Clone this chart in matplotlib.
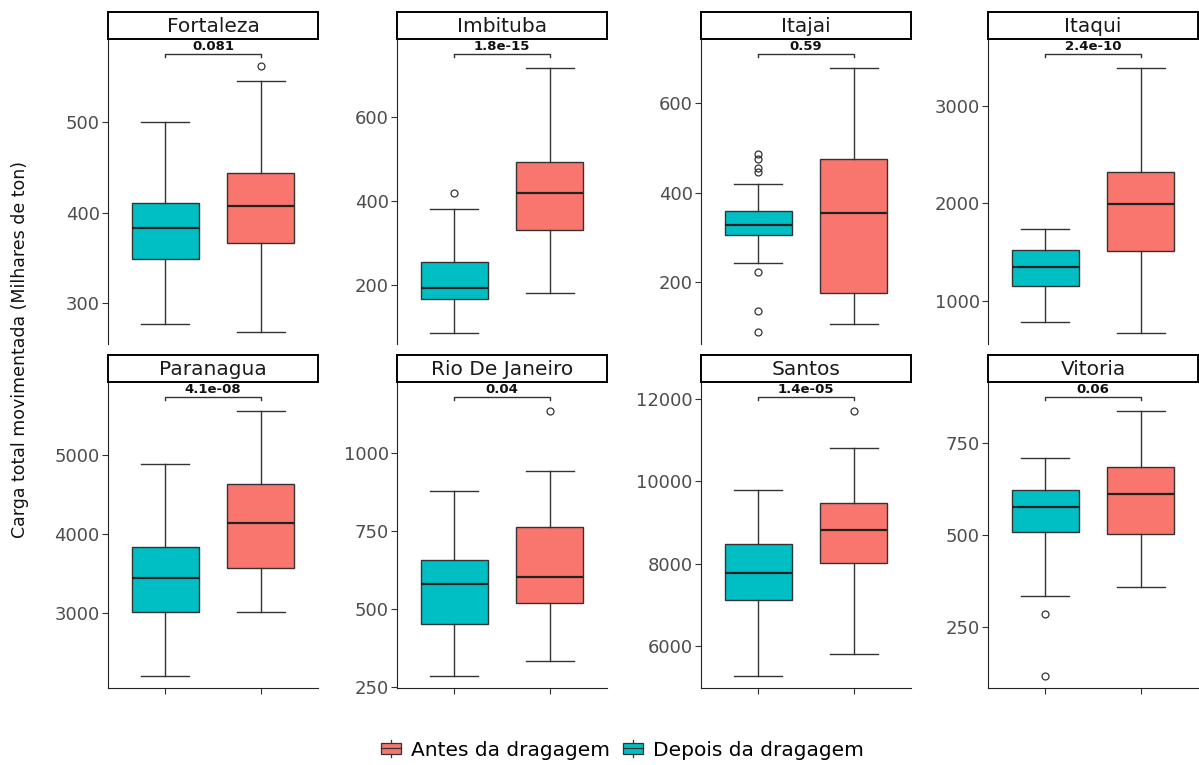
import matplotlib
matplotlib.use("Agg")
import matplotlib.pyplot as plt
import matplotlib.transforms as mtransforms
from matplotlib.patches import Rectangle, Patch
from matplotlib.lines import Line2D
from matplotlib.legend_handler import HandlerBase

portos = ["Fortaleza", "Imbituba", "Itajai", "Itaqui",
          "Paranagua", "Rio De Janeiro", "Santos", "Vitoria"]
p_valores = ["0.081", "1.8e-15", "0.59", "2.4e-10",
             "4.1e-08", "0.04", "1.4e-05", "0.06"]

# (bigode inf, q1, mediana, q3, bigode sup)
depois_stats = [
    (277, 349, 383, 411, 500),
    (87, 166, 192, 254, 381),
    (244, 306, 328, 359, 419),
    (788, 1157, 1352, 1520, 1739),
    (2200, 3013, 3444, 3830, 4886),
    (285, 452, 580, 656, 878),
    (5279, 7109, 7772, 8486, 9781),
    (335, 507, 575, 623, 709),
]
depois_outliers = [[], [418], [88, 136, 222, 446, 456, 475, 486], [],
                   [], [], [], [117, 285]]

antes_stats = [
    (268, 367, 408, 444, 546),
    (182, 330, 419, 493, 716),
    (107, 177, 354, 475, 679),
    (675, 1511, 1996, 2328, 3392),
    (3013, 3563, 4143, 4628, 5562),
    (333, 519, 603, 761, 942),
    (5798, 8024, 8816, 9479, 10809),
    (358, 503, 612, 684, 839),
]
antes_outliers = [[562], [], [], [], [], [1134], [11716], []]

limites_y = [(255, 592), (60, 785), (62, 744), (559, 3687),
             (2045, 5926), (246, 1226), (4980, 12413), (83, 917)]
ticks_y = [[300, 400, 500], [200, 400, 600], [200, 400, 600],
           [1000, 2000, 3000], [3000, 4000, 5000], [250, 500, 750, 1000],
           [6000, 8000, 10000, 12000], [250, 500, 750]]

cor_antes = "#F8766D"
cor_depois = "#00BFC4"


class HandlerCaixa(HandlerBase):
    def create_artists(self, legend, orig_handle, xdescent, ydescent,
                       width, height, fontsize, trans):
        x0, y0 = -xdescent, -ydescent
        r = Rectangle((x0 + 0.05 * width, y0 + 0.1 * height), 0.9 * width,
                      0.8 * height, facecolor=orig_handle.get_facecolor(),
                      edgecolor="#333333", lw=0.9, transform=trans)
        med = Line2D([x0 + 0.05 * width, x0 + 0.95 * width],
                     [y0 + 0.5 * height] * 2, color="#333333", lw=0.9,
                     transform=trans)
        big = Line2D([x0 + 0.5 * width] * 2, [y0 - 0.15 * height, y0 + 1.15 * height],
                     color="#333333", lw=0.9, transform=trans)
        return [big, r, med]


W, H = 1199, 765
fig = plt.figure(figsize=(W / 100, H / 100), dpi=100)

lefts = [108, 397, 701, 988]
largura = 210
linhas = [(39, 344), (382, 688)]
strip_h = 27

for i, porto in enumerate(portos):
    lin, col = divmod(i, 4)
    top, bot = linhas[lin]
    x0 = lefts[col]
    ax = fig.add_axes([x0 / W, 1 - bot / H, largura / W, (bot - top) / H])

    stats = []
    for s, out in ((depois_stats[i], depois_outliers[i]),
                   (antes_stats[i], antes_outliers[i])):
        lo, q1, med, q3, hi = s
        stats.append(dict(whislo=lo, q1=q1, med=med, q3=q3, whishi=hi,
                          fliers=out))

    bp = ax.bxp(stats, positions=[1, 2], widths=0.7, capwidths=0.5,
                patch_artist=True, showfliers=True,
                boxprops=dict(edgecolor="#333333", linewidth=1.0),
                medianprops=dict(color="#222222", linewidth=1.6),
                whiskerprops=dict(color="#333333", linewidth=1.0),
                capprops=dict(color="#333333", linewidth=1.0),
                flierprops=dict(marker="o", markerfacecolor="none",
                                markeredgecolor="#333333", markersize=5,
                                markeredgewidth=0.9))
    for patch, cor in zip(bp["boxes"], [cor_depois, cor_antes]):
        patch.set_facecolor(cor)

    ax.set_xlim(0.4, 2.6)
    ax.set_ylim(*limites_y[i])
    ax.set_yticks(ticks_y[i])
    ax.set_yticklabels([str(t) for t in ticks_y[i]])
    ax.tick_params(axis="y", labelsize=13, labelcolor="#4D4D4D",
                   color="#333333", length=4, pad=2)
    ax.spines["top"].set_visible(False)
    ax.spines["right"].set_visible(False)
    ax.spines["left"].set_color("#222222")
    if lin == 0:
        ax.spines["bottom"].set_visible(False)
        ax.set_xticks([])
    else:
        ax.spines["bottom"].set_color("#222222")
        ax.set_xticks([1, 2])
        ax.set_xticklabels(["", ""])
        ax.tick_params(axis="x", color="#333333", length=4)

    # colchete do p-valor
    trans = mtransforms.blended_transform_factory(ax.transData, ax.transAxes)
    ax.plot([1, 1, 2, 2], [0.94, 0.95, 0.95, 0.94], transform=trans,
            color="#333333", lw=1.0, clip_on=False)
    ax.text(1.5, 0.955, p_valores[i], transform=trans, ha="center",
            va="bottom", fontsize=9.5, fontweight="bold", color="#111111")

    # faixa do titulo
    sax = fig.add_axes([x0 / W, 1 - top / H, largura / W, strip_h / H])
    sax.set_xticks([])
    sax.set_yticks([])
    for sp in sax.spines.values():
        sp.set_color("black")
        sp.set_linewidth(1.4)
    sax.text(0.5, 0.48, porto, ha="center", va="center", fontsize=14.5,
             color="#1A1A1A", transform=sax.transAxes)

fig.text(20 / W, 1 - 350 / H, "Carga total movimentada (Milhares de ton)",
         rotation=90, ha="center", va="center", fontsize=12.5, color="#111111")

handles = [Patch(facecolor=cor_antes), Patch(facecolor=cor_depois)]
fig.legend(handles, ["Antes da dragagem", "Depois da dragagem"],
           loc="center", bbox_to_anchor=(622 / W, 1 - 750 / H), ncol=2,
           frameon=False, fontsize=14.5, handler_map={Patch: HandlerCaixa()},
           handlelength=1.1, handleheight=0.6, columnspacing=0.6,
           handletextpad=0.45)

fig.savefig("out.png", dpi=100)
